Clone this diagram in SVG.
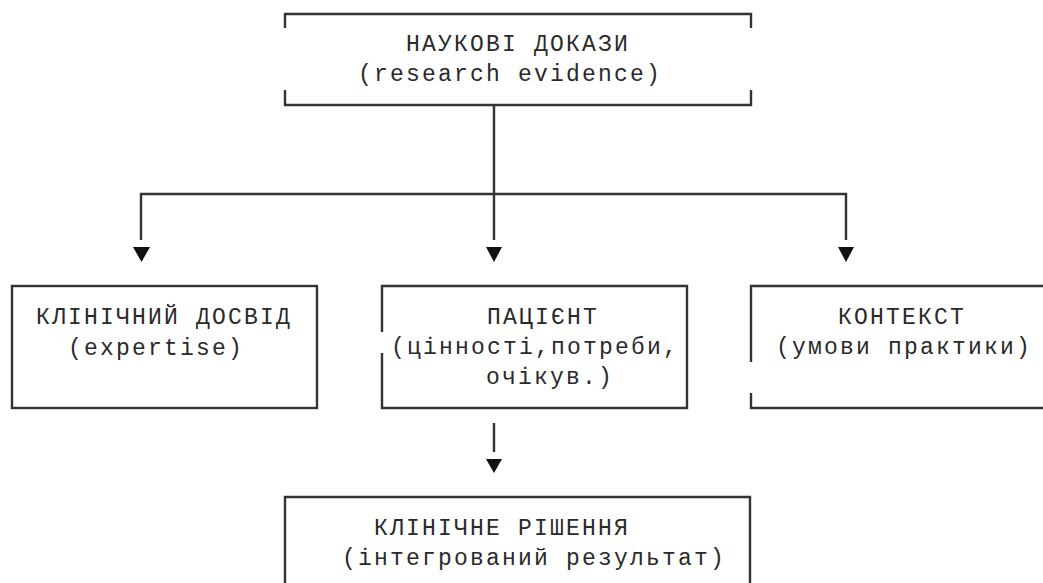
<svg xmlns="http://www.w3.org/2000/svg" width="1043" height="583" viewBox="0 0 1043 583">
<style>
.ln{fill:none;stroke:#333;stroke-width:2.4;stroke-linecap:butt;stroke-linejoin:miter}
.t{font-family:"Liberation Mono","DejaVu Sans Mono",monospace;font-size:23px;letter-spacing:2.2px;fill:#2a2a2a}
.ah{fill:#111}
</style>
<rect width="1043" height="583" fill="#fff"/>
<g id="connectors">
<path class="ln" d="M494 105V240"/>
<path class="ln" d="M141 240V194H846V240"/>
<polygon class="ah" points="133,247 150,247 141.5,262"/>
<polygon class="ah" points="486,247 502,247 494,262"/>
<polygon class="ah" points="838,247 854,247 846,262"/>
<path class="ln" d="M494 423V452"/>
<polygon class="ah" points="486,459 502,459 494,473"/>
</g>
<g id="n-evidence">
<path class="ln" d="M285 28V14H751V28M285 90V105H751V90"/>
<text class="t" x="406" y="51">НАУКОВІ ДОКАЗИ</text>
<text class="t" x="358" y="81">(research evidence)</text>
</g>
<g id="n-expertise">
<rect class="ln" x="12" y="286" width="305" height="122"/>
<text class="t" x="36" y="324">КЛІНІЧНИЙ ДОСВІД</text>
<text class="t" x="68" y="355">(expertise)</text>
</g>
<g id="n-patient">
<path class="ln" d="M382 332V286H687V408H382V353"/>
<text class="t" x="487" y="324">ПАЦІЄНТ</text>
<text class="t" x="391" y="354">(цінності,потреби,</text>
<text class="t" x="486" y="384">очікув.)</text>
</g>
<g id="n-context">
<path class="ln" d="M751 362V286H1043M751 393V408H1043"/>
<text class="t" x="838" y="324">КОНТЕКСТ</text>
<text class="t" x="776" y="354">(умови практики)</text>
</g>
<g id="n-decision">
<path class="ln" d="M285 583V497H750V583"/>
<text class="t" x="374" y="535">КЛІНІЧНЕ РІШЕННЯ</text>
<text class="t" x="342" y="565">(інтегрований результат)</text>
</g>
</svg>
